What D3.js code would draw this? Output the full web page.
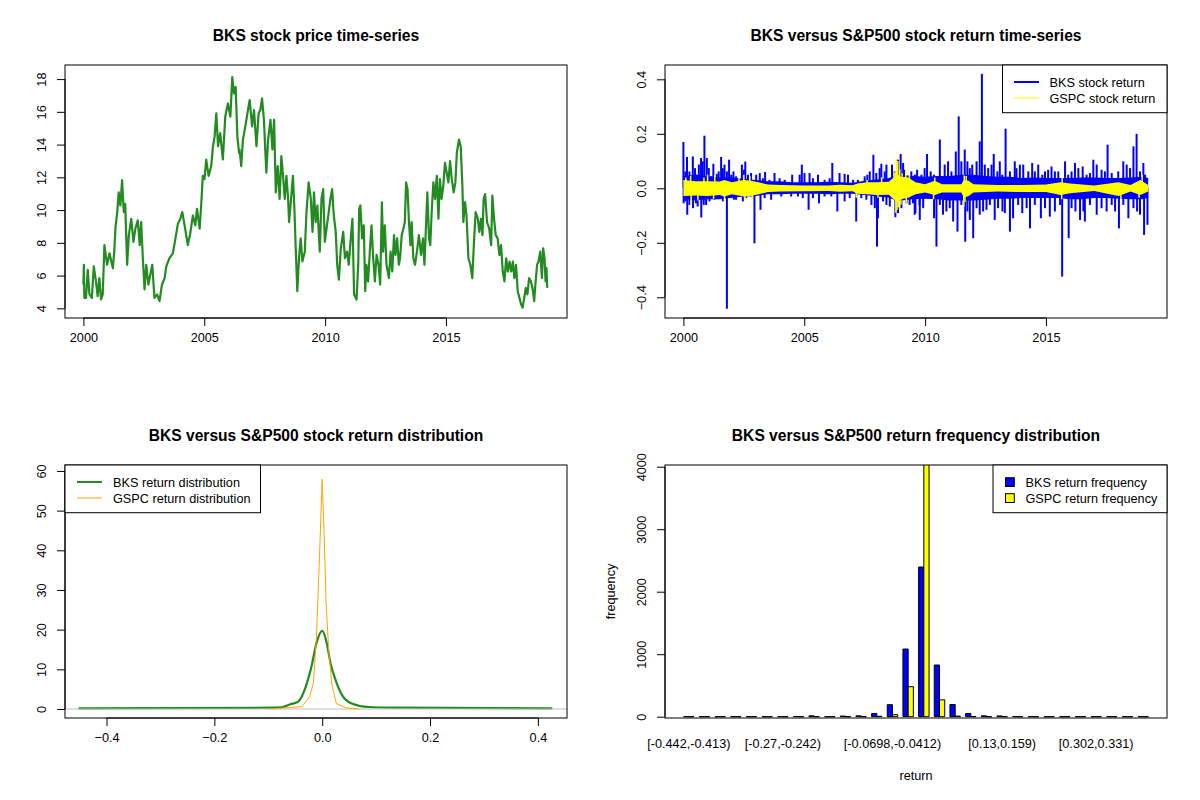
<!DOCTYPE html>
<html>
<head>
<meta charset="utf-8">
<script src="https://cdn.jsdelivr.net/npm/d3@7"></script>
<style>
  body { margin: 0; background: #fff; }
  text { font-family: "Liberation Sans", Arial, sans-serif; }
</style>
</head>
<body>
<div id="chart"></div>
<script>
// ---- data ----

// BKS closing price, [decimal year, price]
const bksPrice = [
  [2000.00,5.45],[2000.02,6.66],[2000.04,4.64],[2000.11,4.64],[2000.18,6.35],[2000.25,4.85],[2000.35,4.64],[2000.43,6.56],
  [2000.52,5.65],[2000.59,4.74],[2000.66,5.85],[2000.73,4.54],[2000.80,4.85],[2000.87,7.86],[2000.98,6.66],[2001.08,7.36],
  [2001.22,6.45],[2001.28,7.56],[2001.33,8.97],[2001.40,9.88],[2001.46,11.08],[2001.53,10.28],[2001.60,11.83],[2001.67,9.88],
  [2001.73,10.38],[2001.81,6.66],[2001.88,8.47],[2001.98,9.47],[2002.07,8.06],[2002.15,8.87],[2002.25,9.37],[2002.33,7.86],
  [2002.39,9.27],[2002.46,7.06],[2002.53,5.15],[2002.60,6.66],[2002.69,5.45],[2002.78,6.15],[2002.85,6.66],[2002.94,4.64],
  [2003.05,4.85],[2003.15,4.44],[2003.25,5.45],[2003.36,5.85],[2003.43,6.56],[2003.56,7.06],[2003.70,7.36],[2003.81,8.27],
  [2003.91,9.17],[2004.01,9.47],[2004.09,9.88],[2004.21,8.87],[2004.32,7.86],[2004.42,8.57],[2004.53,9.67],[2004.63,9.07],
  [2004.70,10.08],[2004.81,8.87],[2004.88,10.48],[2004.94,12.09],[2005.01,11.89],[2005.08,13.09],[2005.18,12.09],[2005.29,12.69],
  [2005.36,13.90],[2005.43,14.50],[2005.50,15.91],[2005.57,13.90],[2005.66,14.70],[2005.77,13.09],[2005.87,15.71],[2005.98,16.51],
  [2006.08,15.71],[2006.16,18.12],[2006.23,17.12],[2006.30,17.52],[2006.37,14.50],[2006.44,13.50],
  [2006.46,13.70],[2006.53,12.69],[2006.60,14.30],[2006.70,15.11],[2006.81,16.11],[2006.88,16.72],[2006.98,15.11],[2007.06,16.11],
  [2007.16,13.90],[2007.25,15.91],[2007.32,16.11],[2007.39,16.82],[2007.47,15.51],[2007.53,13.50],[2007.57,12.29],[2007.64,14.30],
  [2007.74,15.51],[2007.82,13.70],[2007.89,15.51],[2007.96,11.08],[2008.04,12.69],[2008.12,10.68],[2008.19,13.30],[2008.26,12.09],
  [2008.33,10.68],[2008.40,12.09],[2008.47,10.68],[2008.51,9.27],[2008.58,10.48],[2008.67,12.09],[2008.73,10.08],[2008.78,7.86],
  [2008.85,5.05],[2008.92,7.06],[2008.99,8.27],[2009.06,6.86],[2009.16,7.46],[2009.23,9.88],[2009.32,11.69],[2009.41,10.68],
  [2009.48,8.67],[2009.54,11.08],[2009.61,9.27],[2009.68,10.28],[2009.78,7.46],[2009.85,10.68],[2009.92,11.28],[2009.99,8.06],
  [2010.06,8.87],[2010.15,9.88],[2010.22,10.68],[2010.29,11.28],[2010.36,9.67],[2010.44,8.67],[2010.50,6.66],[2010.57,5.75],
  [2010.65,7.66],[2010.75,8.67],[2010.82,7.06],[2010.91,7.46],[2010.98,6.66],[2011.05,8.06],[2011.13,9.47],[2011.20,4.85],
  [2011.30,4.54],[2011.37,6.66],[2011.41,10.08],[2011.46,10.28],[2011.53,8.27],[2011.60,9.07],[2011.66,5.05],[2011.71,6.66],
  [2011.78,5.65],[2011.85,7.46],[2011.92,9.07],[2011.99,7.06],[2012.06,5.65],[2012.13,7.26],[2012.21,6.66],[2012.28,5.45],
  [2012.35,10.48],[2012.40,7.46],[2012.47,9.07],[2012.54,6.66],[2012.64,5.85],[2012.71,7.46],[2012.78,6.25],[2012.85,8.47],
  [2012.91,7.26],[2012.98,8.27],[2013.05,6.66],
  [2013.10,7.06],[2013.17,8.47],[2013.24,8.87],[2013.30,9.27],[2013.35,11.69],[2013.41,11.28],[2013.47,9.27],[2013.53,7.86],
  [2013.58,9.27],[2013.65,7.06],[2013.72,6.66],[2013.80,7.46],[2013.88,8.47],[2013.97,7.26],[2014.05,8.27],[2014.11,6.66],
  [2014.17,8.87],[2014.23,11.08],[2014.30,8.27],[2014.35,7.86],[2014.41,9.88],[2014.48,11.69],[2014.55,10.68],[2014.62,12.09],
  [2014.69,9.47],[2014.75,11.89],[2014.82,10.68],[2014.89,11.48],[2014.96,12.89],[2015.03,12.29],[2015.10,11.69],[2015.17,12.99],
  [2015.24,11.89],[2015.32,11.08],[2015.39,11.69],[2015.45,13.50],[2015.54,14.30],[2015.61,13.90],[2015.68,11.48],[2015.72,9.27],
  [2015.79,10.48],[2015.85,9.67],[2015.93,7.06],[2016.01,6.66],[2016.09,5.85],[2016.16,8.06],[2016.23,9.88],[2016.32,9.47],
  [2016.38,8.67],[2016.45,9.47],[2016.51,8.47],[2016.56,10.68],[2016.62,10.98],[2016.70,9.27],[2016.79,8.87],[2016.87,7.86],
  [2016.92,10.88],[2016.99,9.47],[2017.06,8.47],[2017.14,8.27],[2017.21,7.26],[2017.28,7.86],[2017.35,6.25],[2017.42,5.65],
  [2017.49,7.06],[2017.56,6.25],[2017.63,6.86],[2017.70,6.25],[2017.77,6.86],[2017.83,5.85],[2017.90,6.66],[2017.97,5.05],
  [2018.04,4.64],[2018.11,4.24],[2018.17,4.04],[2018.24,4.64],[2018.30,5.25],[2018.37,4.85],[2018.44,5.85],[2018.51,5.65],
  [2018.58,5.25],[2018.65,4.44],[2018.70,5.45],[2018.77,6.66],[2018.83,6.86],[2018.90,7.46],[2018.97,5.85],[2019.02,7.66],
  [2019.08,7.06],[2019.12,5.65],[2019.16,6.45],[2019.19,5.25]
];

// daily return band (typical low / high) and the single-day moves that stick out of it, BKS
const bksBand = [
  [2000.00,-0.04,0.045],[2000.5,-0.045,0.05],[2001.0,-0.04,0.045],[2001.5,-0.04,0.04],[2002.0,-0.035,0.04],
  [2002.5,-0.03,0.035],[2003.0,-0.028,0.03],[2003.5,-0.022,0.026],[2004.0,-0.022,0.026],[2004.5,-0.02,0.022],
  [2005.0,-0.02,0.022],[2005.5,-0.02,0.022],[2006.0,-0.022,0.024],[2006.5,-0.02,0.022],[2007.0,-0.02,0.02],
  [2007.5,-0.025,0.028],[2008.0,-0.03,0.032],[2008.5,-0.035,0.038],[2008.8,-0.045,0.048],[2009.0,-0.045,0.05],
  [2009.5,-0.04,0.045],[2010.0,-0.038,0.042],[2010.5,-0.04,0.045],[2011.0,-0.045,0.045],[2011.5,-0.045,0.05],
  [2012.0,-0.045,0.05],[2012.5,-0.042,0.045],[2013.0,-0.038,0.042],[2013.5,-0.038,0.042],[2014.0,-0.036,0.038],
  [2014.5,-0.036,0.04],[2015.0,-0.036,0.038],[2015.5,-0.036,0.038],[2016.0,-0.04,0.038],[2016.5,-0.04,0.04],
  [2017.0,-0.036,0.04],[2017.5,-0.036,0.038],[2018.0,-0.038,0.038],[2018.5,-0.04,0.04],[2019.0,-0.04,0.042],
  [2019.23,-0.036,0.038]
];
const bksSpikes = [
  // large moves
  [2000.00,0.170],[2000.08,0.062],[2000.15,0.115],[2000.39,0.117],[2000.64,0.087],[2000.73,0.111],[2000.87,0.193],
  [2000.97,0.111],[2001.24,0.090],[2001.56,0.115],[2001.70,0.087],[2001.89,0.105],[2002.07,0.062],[2002.56,0.098],
  [2002.80,0.056],[2003.16,0.056],[2003.38,0.060],[2003.77,0.056],[2004.50,0.050],[2004.90,0.087],[2005.22,0.056],
  [2006.16,0.093],[2006.67,0.053],[2007.61,0.050],[2007.86,0.123],[2008.19,0.090],[2008.33,0.062],[2008.63,0.087],
  [2008.88,0.105],[2008.99,0.126],[2009.16,0.068],[2009.67,0.068],
  [2000.01,-0.055],[2000.16,-0.097],[2000.40,-0.073],[2000.74,-0.107],[2000.94,-0.061],[2001.80,-0.442],[2002.09,-0.042],
  [2002.94,-0.202],[2003.19,-0.079],[2005.18,-0.079],[2005.61,-0.055],[2006.37,-0.085],[2007.15,-0.122],[2008.01,-0.214],
  [2008.05,-0.110],[2008.77,-0.106],[2009.23,-0.055],[2009.57,-0.097],[2009.78,-0.116],
  [2009.64,0.050],[2010.08,0.126],[2010.37,0.050],[2010.61,0.179],[2010.95,0.099],[2011.27,0.135],[2011.39,0.264],
  [2011.64,0.142],[2011.75,0.099],[2011.95,0.087],[2012.26,0.172],[2012.35,0.420],[2012.47,0.087],[2012.84,0.126],
  [2013.09,0.099],[2013.33,0.219],[2013.71,0.099],[2013.92,0.087],[2014.43,0.093],[2014.85,0.050],[2014.96,0.062],
  [2015.37,0.062],[2015.79,0.099],[2015.92,0.050],[2016.20,0.093],[2016.52,0.080],[2016.82,0.056],[2016.96,0.105],
  [2017.30,0.068],[2017.55,0.160],[2018.20,0.099],[2018.62,0.154],[2018.75,0.200],[2019.03,0.093],
  [2009.60,-0.091],[2010.12,-0.036],[2010.37,-0.110],[2010.47,-0.214],[2010.88,-0.085],[2011.16,-0.122],[2011.34,-0.159],
  [2011.66,-0.196],[2011.85,-0.116],[2011.99,-0.183],[2012.40,-0.085],[2012.54,-0.079],[2012.88,-0.116],[2013.20,-0.085],
  [2013.51,-0.159],[2013.64,-0.110],[2014.02,-0.091],[2014.34,-0.147],[2014.79,-0.110],[2015.16,-0.104],[2015.67,-0.324],
  [2015.94,-0.183],[2016.22,-0.085],[2016.41,-0.116],[2016.61,-0.122],[2017.10,-0.097],[2017.51,-0.085],[2018.02,-0.147],
  [2018.41,-0.110],[2018.77,-0.085],[2019.06,-0.171],[2019.20,-0.134],
  // moderate moves
  [2000.25,0.062],[2000.48,0.074],[2000.55,0.050],[2000.80,0.099],[2001.05,0.074],[2001.15,0.044],[2001.38,0.053],
  [2001.46,0.062],[2001.63,0.074],[2001.80,0.062],[2001.98,0.050],[2002.18,0.044],[2002.42,0.087],[2002.50,0.068],
  [2002.67,0.050],[2003.01,0.050],[2003.29,0.037],[2003.56,0.031],[2003.98,0.037],[2004.19,0.031],[2004.81,0.050],
  [2005.01,0.056],[2005.36,0.037],[2005.57,0.050],[2005.84,0.031],[2006.05,0.037],[2006.46,0.056],[2006.81,0.050],
  [2007.02,0.031],[2007.22,0.031],[2007.50,0.044],[2007.71,0.062],[2007.98,0.056],[2008.12,0.074],[2008.40,0.087],
  [2008.74,0.062],[2009.09,0.093],[2009.43,0.062],[2009.57,0.050],
  [2000.08,-0.048],[2000.25,-0.061],[2000.52,-0.055],[2000.59,-0.067],[2000.84,-0.061],[2001.08,-0.048],[2001.28,-0.042],
  [2001.42,-0.036],[2001.63,-0.048],[2001.98,-0.036],[2002.18,-0.042],[2002.46,-0.048],[2002.60,-0.036],[2002.80,-0.030],
  [2003.36,-0.036],[2003.63,-0.042],[2004.05,-0.030],[2004.46,-0.030],[2004.74,-0.030],[2004.94,-0.036],[2005.36,-0.036],
  [2005.84,-0.030],[2006.12,-0.030],[2006.67,-0.048],[2006.88,-0.036],[2007.36,-0.036],[2007.57,-0.042],[2007.78,-0.061],
  [2007.92,-0.073],[2008.26,-0.048],[2008.40,-0.061],[2008.54,-0.067],[2008.88,-0.091],[2009.02,-0.073],[2009.36,-0.061],
  [2009.50,-0.055],
  [2009.85,0.050],[2009.98,0.074],[2010.23,0.062],[2010.81,0.087],[2011.09,0.062],[2011.50,0.099],[2011.85,0.074],
  [2012.13,0.099],[2012.61,0.074],[2012.75,0.087],[2012.99,0.062],[2013.19,0.050],[2013.51,0.062],[2013.78,0.074],
  [2014.06,0.087],[2014.27,0.062],[2014.54,0.062],[2014.68,0.087],[2015.09,0.068],[2015.23,0.080],[2015.51,0.062],
  [2016.06,0.062],[2016.34,0.074],[2016.68,0.050],[2017.10,0.087],[2017.44,0.062],[2017.72,0.056],[2017.99,0.062],
  [2018.34,0.087],[2018.48,0.074],[2018.89,0.062],[2019.10,0.050],
  [2009.77,-0.061],[2009.92,-0.073],[2010.61,-0.061],[2010.74,-0.097],[2011.02,-0.073],[2011.50,-0.061],[2011.75,-0.085],
  [2012.13,-0.073],[2012.26,-0.097],[2012.68,-0.061],[2013.02,-0.073],[2013.30,-0.091],[2013.85,-0.061],[2014.20,-0.073],
  [2014.54,-0.061],[2014.96,-0.073],[2015.37,-0.085],[2015.58,-0.061],[2016.06,-0.073],[2016.55,-0.085],[2016.82,-0.061],
  [2017.30,-0.073],[2017.72,-0.061],[2017.86,-0.085],[2018.20,-0.061],[2018.62,-0.073],[2018.89,-0.097]
];

// same for the S&P 500 (GSPC)
const gspcBand = [
  [2000.0,-0.028,0.03],[2000.5,-0.026,0.026],[2001.0,-0.028,0.026],[2001.5,-0.025,0.025],[2001.7,-0.03,0.03],
  [2002.0,-0.022,0.022],[2002.5,-0.03,0.03],[2002.8,-0.028,0.028],[2003.2,-0.02,0.02],[2003.5,-0.014,0.014],
  [2004.0,-0.012,0.012],[2005.0,-0.011,0.01],[2006.0,-0.01,0.01],[2006.5,-0.013,0.013],[2007.0,-0.011,0.011],
  [2007.2,-0.02,0.018],[2007.6,-0.022,0.022],[2008.0,-0.025,0.022],[2008.5,-0.024,0.024],[2008.7,-0.04,0.04],
  [2008.85,-0.05,0.05],[2009.0,-0.04,0.042],[2009.3,-0.035,0.04],[2009.6,-0.022,0.022],[2010.0,-0.015,0.015],
  [2010.4,-0.025,0.028],[2010.7,-0.015,0.015],[2011.5,-0.015,0.015],[2011.6,-0.035,0.03],[2011.8,-0.028,0.028],
  [2012.0,-0.015,0.015],[2013.0,-0.012,0.012],[2014.0,-0.014,0.012],[2015.0,-0.014,0.014],[2015.6,-0.025,0.022],
  [2016.0,-0.018,0.018],[2017.0,-0.01,0.01],[2018.0,-0.028,0.022],[2018.5,-0.012,0.012],[2018.9,-0.025,0.03],
  [2019.23,-0.012,0.012]
];
const gspcSpikes = [
  [2000.10,0.04],[2000.30,0.045],[2000.32,-0.06],[2000.60,-0.045],[2000.85,0.04],[2001.00,0.05],[2001.25,-0.04],
  [2001.30,0.048],[2001.70,-0.05],[2002.30,0.04],[2002.50,0.05],[2002.55,-0.045],[2002.75,0.045],[2002.85,-0.04],
  [2007.15,-0.035],[2007.60,0.03],[2008.05,-0.035],[2008.20,0.04],
  [2008.72,0.055],[2008.76,0.06],[2008.79,-0.09],[2008.81,0.11],[2008.84,-0.08],[2008.87,0.10],[2008.90,-0.07],
  [2008.95,0.07],[2009.00,-0.06],[2009.05,0.055],[2009.20,0.07],[2009.22,-0.055],[2009.35,0.05],
  [2010.35,-0.04],[2010.40,0.04],[2011.60,-0.067],[2011.62,0.047],[2011.65,-0.05],[2011.70,0.045],
  [2015.65,-0.04],[2015.67,0.038],[2018.10,-0.04],[2018.85,-0.035],[2018.98,0.05]
];

// kernel density of the returns, [return, density]
const bksDensity = [
  [-0.452,0.17],[-0.126,0.3],[-0.0766,0.4],[-0.059,1.2],[-0.0447,1.85],[-0.0306,5.6],[-0.0199,10.7],
  [-0.0107,16.6],[0,19.7],[0.0085,16.6],[0.0155,11.5],[0.0248,7.3],[0.0369,3.5],[0.0545,1.4],
  [0.0864,0.5],[0.1325,0.34],[0.4267,0.17]
];
const gspcDensity = [
  [-0.098,0],[-0.0376,0.6],[-0.0234,3.1],[-0.0163,6.5],[-0.0107,18.2],[-0.0057,35.9],[0,57.9],
  [0.0035,44.3],[0.007,27.5],[0.012,14.9],[0.0176,6.5],[0.0261,1.4],[0.0439,0.3],[0.0687,0]
];

// return frequency per bin
const binLabels = [
  "[-0.442,-0.413)","[-0.413,-0.385)","[-0.385,-0.356)","[-0.356,-0.327)","[-0.327,-0.299)","[-0.299,-0.27)",
  "[-0.27,-0.242)","[-0.242,-0.213)","[-0.213,-0.184)","[-0.184,-0.156)","[-0.156,-0.127)","[-0.127,-0.0985)",
  "[-0.0985,-0.0698)","[-0.0698,-0.0412)","[-0.0412,-0.0126)","[-0.0126,0.016)","[0.016,0.0446)","[0.0446,0.0733)",
  "[0.0733,0.102)","[0.102,0.13)","[0.13,0.159)","[0.159,0.188)","[0.188,0.216)","[0.216,0.245)",
  "[0.245,0.273)","[0.273,0.302)","[0.302,0.331)","[0.331,0.359)","[0.359,0.388)","[0.388,0.417)"
];
const shownBinLabels = ["[-0.442,-0.413)","[-0.27,-0.242)","[-0.0698,-0.0412)","[0.13,0.159)","[0.302,0.331)"];
const bksFreq  = [1,0,0,0,0,0,0,3,14,0,10,14,50,192,1083,2395,827,195,50,14,12,3,2,1,0,0,0,0,0,1];
const gspcFreq = [0,0,0,0,0,0,0,0,0,0,0,0,6,32,480,4040,270,10,2,0,0,0,0,0,0,0,0,0,0,0];

const yearTicks = [2000, 2005, 2010, 2015];
const priceTicks = [4, 6, 8, 10, 12, 14, 16, 18];
const returnTicks = [-0.4, -0.2, 0, 0.2, 0.4];
const densityTicks = [0, 10, 20, 30, 40, 50, 60];
const freqTicks = [0, 1000, 2000, 3000, 4000];

// ---- drawing ----
const FONT = '"Liberation Sans", Arial, sans-serif';
const AXIS_FS = 12.7;
const TITLE_FS = 15.6;
const GREEN = "#228B22", BLUE = "#0000FF", YELLOW = "#FFFF00", ORANGE = "#FFA500";

const svg = d3.select("#chart").append("svg")
  .attr("width", 1200).attr("height", 800)
  .style("background", "#fff");

// plot regions (R mfrow 2x2)
const pTL = { x0: 65, x1: 567, y0: 65, y1: 318 };
const pTR = { x0: 665, x1: 1167, y0: 65, y1: 318 };
const pBL = { x0: 65, x1: 567, y0: 465, y1: 718 };
const pBR = { x0: 665, x1: 1167, y0: 465, y1: 718 };

function box(p) {
  svg.append("rect")
    .attr("x", p.x0).attr("y", p.y0)
    .attr("width", p.x1 - p.x0).attr("height", p.y1 - p.y0)
    .attr("fill", "none").attr("stroke", "#000").attr("stroke-width", 1);
}

function title(p, txt) {
  svg.append("text")
    .attr("x", (p.x0 + p.x1) / 2).attr("y", p.y0 - 24.5)
    .attr("text-anchor", "middle")
    .attr("font-size", TITLE_FS).attr("font-weight", "bold")
    .text(txt);
}

function bottomAxis(p, scale, ticks, fmt) {
  const g = svg.append("g")
    .attr("transform", `translate(0,${p.y1})`)
    .call(d3.axisBottom(scale).tickValues(ticks).tickSize(8).tickFormat(fmt));
  g.select(".domain").attr("d", `M${scale(ticks[0])},0H${scale(ticks[ticks.length - 1])}`);
  g.selectAll(".tick text").attr("y", 24).attr("dy", null);
  g.attr("font-size", AXIS_FS).attr("font-family", FONT).attr("color", "#000");
}

function leftAxis(p, scale, ticks, fmt) {
  const g = svg.append("g")
    .attr("transform", `translate(${p.x0},0)`)
    .call(d3.axisLeft(scale).tickValues(ticks).tickSize(8).tickFormat(fmt));
  g.select(".domain").attr("d", `M0,${scale(ticks[0])}V${scale(ticks[ticks.length - 1])}`);
  g.selectAll(".tick text")
    .attr("x", 0).attr("y", -18.8).attr("dy", null)
    .attr("text-anchor", "middle")
    .attr("transform", "rotate(-90)");
  g.attr("font-size", AXIS_FS).attr("font-family", FONT).attr("color", "#000");
}

function legend(x0, x1, y0, rows) {
  svg.append("rect")
    .attr("x", x0).attr("y", y0).attr("width", x1 - x0).attr("height", 47.7)
    .attr("fill", "#fff").attr("stroke", "#000");
  rows.forEach((r, i) => {
    const cy = y0 + 17 + i * 16;
    if (r.kind === "line") {
      svg.append("line")
        .attr("x1", r.lx).attr("x2", r.lx + 25).attr("y1", cy).attr("y2", cy)
        .attr("stroke", r.color).attr("stroke-width", r.width);
    } else {
      svg.append("rect")
        .attr("x", r.lx).attr("y", cy - 4.3).attr("width", 8.8).attr("height", 8.8)
        .attr("fill", r.color).attr("stroke", "#000");
    }
    svg.append("text")
      .attr("x", r.tx).attr("y", cy + 4.5)
      .attr("font-size", AXIS_FS)
      .text(r.label);
  });
}

const fmtReturn = d => d3.format(".1f")(d);

// --- 1. price time series
{
  const x = d3.scaleLinear().domain([1999.239, 2020.008]).range([pTL.x0, pTL.x1]);
  const y = d3.scaleLinear().domain([3.41, 18.86]).range([pTL.y1, pTL.y0]);
  svg.append("path")
    .datum(bksPrice)
    .attr("d", d3.line().x(d => x(d[0])).y(d => y(d[1])))
    .attr("fill", "none").attr("stroke", GREEN).attr("stroke-width", 2.2)
    .attr("stroke-linejoin", "round");
  box(pTL);
  bottomAxis(pTL, x, yearTicks, d3.format("d"));
  leftAxis(pTL, y, priceTicks, d3.format("d"));
  title(pTL, "BKS stock price time-series");
}

// --- 2. return time series
{
  const x = d3.scaleLinear().domain([1999.239, 2020.008]).range([pTR.x0, pTR.x1]);
  const y = d3.scaleLinear().domain([-0.476, 0.4525]).range([pTR.y1, pTR.y0]);
  const band = d3.area().x(d => x(d[0])).y0(d => y(d[1])).y1(d => y(d[2]));
  svg.append("path").datum(bksBand).attr("d", band).attr("fill", BLUE);
  svg.append("g").selectAll("line").data(bksSpikes).join("line")
    .attr("x1", d => x(d[0])).attr("x2", d => x(d[0]))
    .attr("y1", y(0)).attr("y2", d => y(d[1]))
    .attr("stroke", BLUE).attr("stroke-width", 2);
  svg.append("path").datum(gspcBand).attr("d", band).attr("fill", YELLOW);
  svg.append("g").selectAll("line").data(gspcSpikes).join("line")
    .attr("x1", d => x(d[0])).attr("x2", d => x(d[0]))
    .attr("y1", y(0)).attr("y2", d => y(d[1]))
    .attr("stroke", YELLOW).attr("stroke-width", 1.5);
  box(pTR);
  bottomAxis(pTR, x, yearTicks, d3.format("d"));
  leftAxis(pTR, y, returnTicks, fmtReturn);
  title(pTR, "BKS versus S&P500 stock return time-series");
  legend(1002.5, pTR.x1, pTR.y0, [
    { kind: "line", color: BLUE, width: 2, lx: 1014, tx: 1049.5, label: "BKS stock return" },
    { kind: "line", color: YELLOW, width: 1, lx: 1014, tx: 1049.5, label: "GSPC stock return" }
  ]);
}

// --- 3. return densities
{
  const x = d3.scaleLinear().domain([-0.477, 0.454]).range([pBL.x0, pBL.x1]);
  const y = d3.scaleLinear().domain([-2.27, 61.5]).range([pBL.y1, pBL.y0]);
  svg.append("path").datum(bksDensity)
    .attr("d", d3.line().x(d => x(d[0])).y(d => y(d[1])).curve(d3.curveMonotoneX))
    .attr("fill", "none").attr("stroke", GREEN).attr("stroke-width", 2.2);
  svg.append("line")
    .attr("x1", pBL.x0).attr("x2", pBL.x1).attr("y1", y(0)).attr("y2", y(0))
    .attr("stroke", "#BEBEBE").attr("stroke-width", 1);
  svg.append("path").datum(gspcDensity)
    .attr("d", d3.line().x(d => x(d[0])).y(d => y(d[1])))
    .attr("fill", "none").attr("stroke", ORANGE).attr("stroke-width", 1);
  box(pBL);
  bottomAxis(pBL, x, returnTicks, fmtReturn);
  leftAxis(pBL, y, densityTicks, d3.format("d"));
  title(pBL, "BKS versus S&P500 stock return distribution");
  legend(pBL.x0, 260.5, pBL.y0, [
    { kind: "line", color: GREEN, width: 2, lx: 77, tx: 113, label: "BKS return distribution" },
    { kind: "line", color: ORANGE, width: 1, lx: 77, tx: 113, label: "GSPC return distribution" }
  ]);
}

// --- 4. frequency bar chart (two bars per bin)
{
  const x = d3.scaleLinear().domain([-2.56, 93.56]).range([pBR.x0, pBR.x1]);
  const y = d3.scaleLinear().domain([-20.8, 4027]).range([pBR.y1, pBR.y0]);
  svg.append("clipPath").attr("id", "clipBR").append("rect")
    .attr("x", pBR.x0).attr("y", pBR.y0)
    .attr("width", pBR.x1 - pBR.x0).attr("height", pBR.y1 - pBR.y0);
  const bars = [];
  binLabels.forEach((lab, i) => {
    bars.push({ u: 3 * i + 1, v: bksFreq[i], color: BLUE });
    bars.push({ u: 3 * i + 2, v: gspcFreq[i], color: YELLOW });
  });
  svg.append("g").attr("clip-path", "url(#clipBR)")
    .selectAll("path").data(bars).join("path")
    .attr("d", d => {
      const xa = x(d.u), xb = x(d.u + 1), ya = y(0), yb = y(d.v);
      return `M${xa},${ya}H${xb}V${yb}H${xa}Z`;
    })
    .attr("fill", d => d.color).attr("stroke", "#000").attr("stroke-width", 1);
  box(pBR);
  svg.append("g").selectAll("text")
    .data(binLabels.map((lab, i) => ({ lab, i })).filter(d => shownBinLabels.includes(d.lab)))
    .join("text")
    .attr("x", d => x(3 * d.i + 2)).attr("y", 748)
    .attr("text-anchor", "middle").attr("font-size", AXIS_FS)
    .text(d => d.lab);
  leftAxis(pBR, y, freqTicks, d3.format("d"));
  title(pBR, "BKS versus S&P500 return frequency distribution");
  svg.append("text")
    .attr("x", (pBR.x0 + pBR.x1) / 2).attr("y", 780)
    .attr("text-anchor", "middle").attr("font-size", AXIS_FS)
    .text("return");
  svg.append("text")
    .attr("transform", `translate(615,${(pBR.y0 + pBR.y1) / 2}) rotate(-90)`)
    .attr("text-anchor", "middle").attr("font-size", AXIS_FS)
    .text("frequency");
  legend(993, pBR.x1, pBR.y0, [
    { kind: "box", color: BLUE, lx: 1005.5, tx: 1025.5, label: "BKS return frequency" },
    { kind: "box", color: YELLOW, lx: 1005.5, tx: 1025.5, label: "GSPC return frequency" }
  ]);
}
</script>
</body>
</html>
